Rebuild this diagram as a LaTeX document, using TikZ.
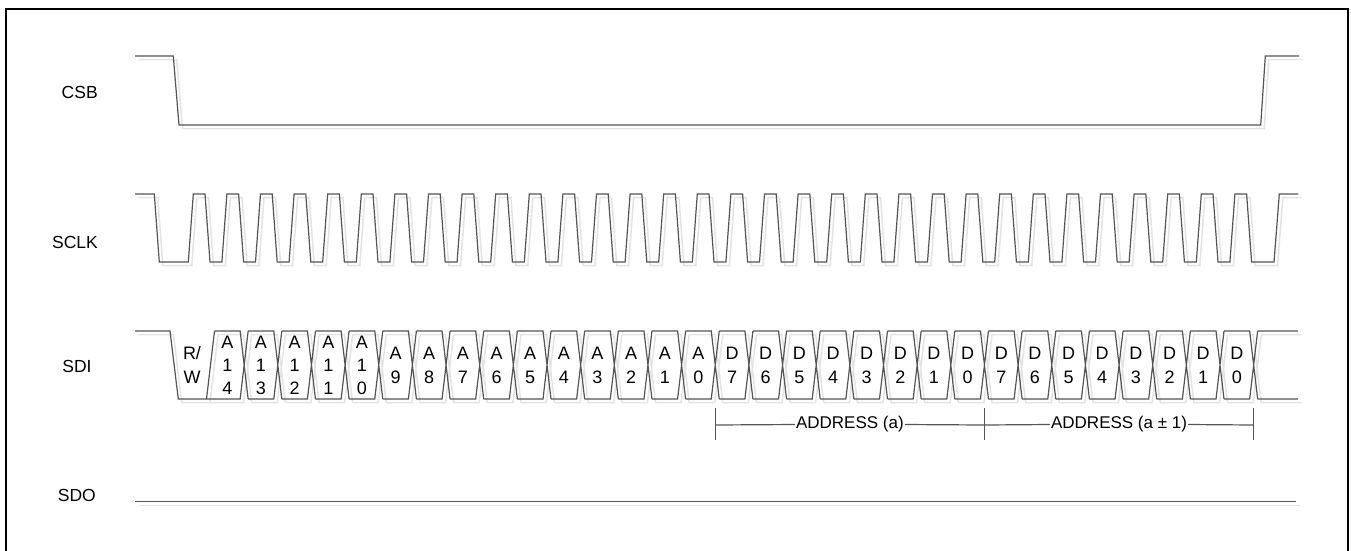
\documentclass[tikz,border=0pt]{standalone}
\usepackage{fontspec}
\setmainfont{Liberation Sans}
\definecolor{sig}{RGB}{85,85,85}
\definecolor{shd}{RGB}{228,228,228}
\tikzset{
  wave/.style={draw=sig, line width=1.2pt, line join=miter},
  shadowline/.style={draw=shd, line width=1.5pt, shift={(3.5,3.7)}},
  lbl/.style={font=\fontsize{17.5}{20}\selectfont, inner sep=0pt},
  bit/.style={font=\fontsize{18}{23.8}\selectfont, align=center, inner sep=0pt},
  bitthree/.style={font=\fontsize{18}{23.2}\selectfont, align=center, inner sep=0pt},
  addr/.style={font=\fontsize{17}{20}\selectfont, inner sep=1pt},
}
\newcommand\csbpath{(135,56) -- (173.3,56) -- (179,125) -- (1260.7,125) -- (1265.3,56) -- (1299,56)}
\newcommand\sclkpath{(135,194) -- (154.3,194) -- (159.3,262)
  foreach \k in {0,...,31}{ -- ({188.3+33.6*\k},262) -- ({193.3+33.6*\k},194) -- ({205+33.6*\k},194) -- ({210+33.6*\k},262)}
  -- (1274,262) -- (1279.3,194) -- (1298.3,194)}
\newcommand\sdipath{(135,331) -- (170,331) -- (178.3,399) -- (214.5,399)
  (206.5,399) -- (214.5,331)
  foreach \k in {1,...,31}{
    ({180.85+33.65*\k},399) -- ({206.5+33.65*\k},399) -- ({210.5+33.65*\k},365) -- ({206.5+33.65*\k},331) -- ({180.85+33.65*\k},331)
    ({214.5+33.65*\k},331) -- ({210.5+33.65*\k},365) -- ({214.5+33.65*\k},399)}
  (1257.65,331) -- (1298,331)
  (1257.65,399) -- (1298,399)}
\newcommand\sdopath{(135,501.7) -- (1296,501.7)}
\begin{document}
\begin{tikzpicture}[x=1pt,y=-1pt]
\useasboundingbox (0,0) rectangle (1351,550);
% frame
\draw[black, line width=1.5pt] (6,553) -- (6,9) -- (1348,9) -- (1348,553);

% signal names
\node[lbl] (csb)  at (79.7,92.7) {CSB};
\node[lbl] (sclk) at (75,242)    {SCLK};
\node[lbl] (sdi)  at (77,366)    {SDI};
\node[lbl] (sdo)  at (76.8,495.5) {SDO};

% shadows
\draw[shadowline] \csbpath;
\draw[shadowline] \sclkpath;
\draw[shadowline] \sdipath;
\draw[shadowline] \sdopath;

% waveforms
\draw[wave] \csbpath;
\draw[wave] \sclkpath;
\draw[wave] \sdipath;
\draw[wave] \sdopath;

% bit labels
\node[bit] (rw) at (192,365) {R/\\W};
\foreach \n [count=\j from 1] in {4,3,2,1,0}
  \node[bitthree] (a\j) at ({193.675+33.65*\j},365.5) {A\\1\\\n};
\foreach \n [count=\j from 6] in {9,...,0}
  \node[bit] (a\j) at ({193.675+33.65*\j},365) {A\\\n};
\foreach \n [count=\j from 16] in {7,...,0}
  \node[bit] (d\j) at ({193.675+33.65*\j},365) {D\\\n};
\foreach \n [count=\j from 24] in {7,...,0}
  \node[bit] (d\j) at ({193.675+33.65*\j},365) {D\\\n};

% address brackets
\coordinate (t1) at (715.25,425);
\coordinate (t2) at (984.45,425);
\coordinate (t3) at (1253.65,425);
\node[addr] (addrA) at (849.85,424.5) {ADDRESS (a)};
\node[addr] (addrB) at (1119.05,424.5) {ADDRESS (a ± 1)};
\foreach \t in {t1,t2,t3}{
  \draw[shadowline] (\t) ++(0,-17) -- ++(0,32);
  \draw[wave] (\t) ++(0,-17) -- ++(0,32);
}
\draw[wave] (t1) -- (addrA.west);
\draw[wave] (addrA.east) -- (t2);
\draw[wave] (t2) -- (addrB.west);
\draw[wave] (addrB.east) -- (t3);
\end{tikzpicture}
\end{document}
